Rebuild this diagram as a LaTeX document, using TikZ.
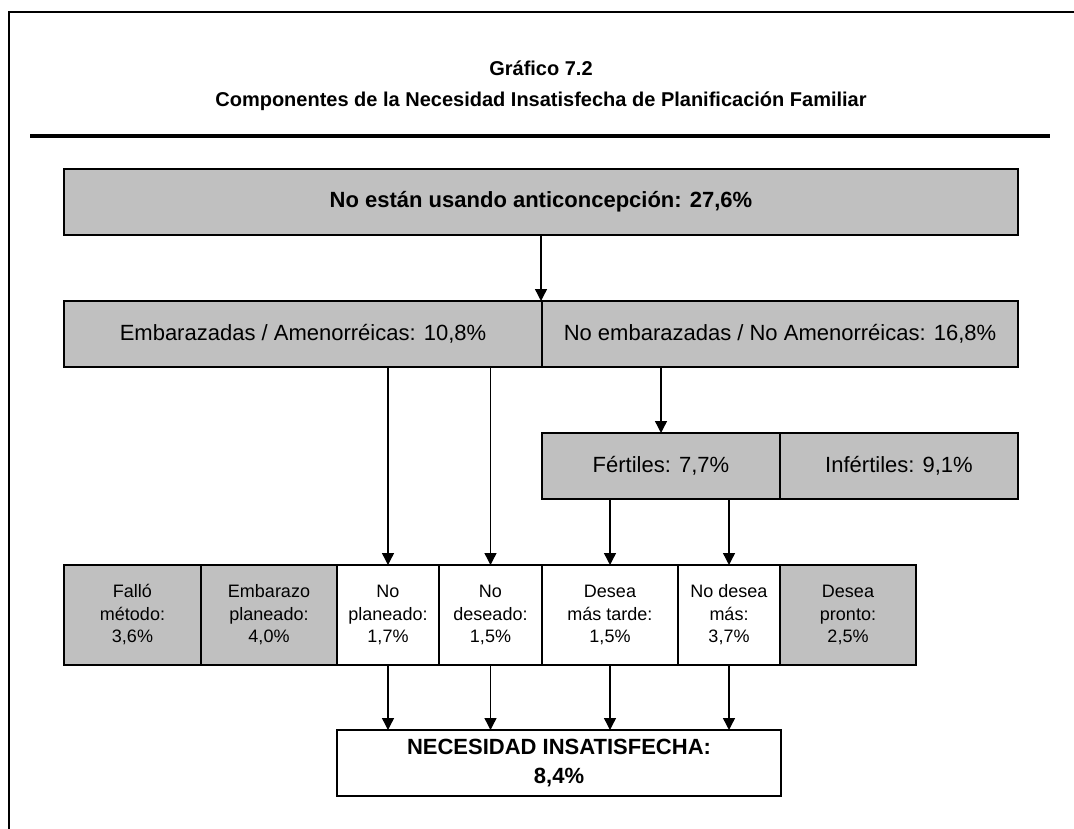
\documentclass[tikz,border=0pt]{standalone}
\usepackage{fontspec}
\setmainfont{Liberation Sans}
\usetikzlibrary{positioning, arrows.meta}
\definecolor{boxgray}{HTML}{C0C0C0}
\tikzset{
  box/.style={draw, line width=2.7pt, fill=boxgray, minimum height=66pt,
    inner sep=0pt, outer sep=0pt, font=\fontsize{22}{26}\selectfont},
  cell/.style={draw, line width=2.7pt, fill=white, minimum height=100pt,
    inner sep=0pt, outer sep=0pt, align=center, font=\fontsize{18}{22.5}\selectfont},
  graycell/.style={cell, fill=boxgray},
  titletext/.style={font=\bfseries\fontsize{20}{24}\selectfont}
}
\begin{document}
\begin{tikzpicture}
	[x=1pt, y=-1pt, >={Triangle[width=12pt,length=12pt]}, line width=1.4pt]
   \useasboundingbox (0,0) rectangle (1074,829);
   \draw[line width=2pt] (1074,12) -- (9,12) -- (9,829);
   \node[titletext] (title) at (541,68) {Gráfico 7.2};
   \node[titletext] (subtitle) at (541,101) {Componentes de la Necesidad Insatisfecha de Planificación Familiar};
   \draw[line width=3.5pt] (30,136) -- (1050,136);
   \node[box, minimum width=954pt, font=\bfseries\fontsize{22}{26}\selectfont] (n_top) at (541,202) {No están usando anticoncepción: 27,6\%};
   \node[box, minimum width=478pt, anchor=west] (n_emb) at (64,334) {Embarazadas / Amenorréicas: 10,8\%};
   \node[box, minimum width=476pt] (n_noemb) [right=0pt of n_emb] {No embarazadas / No Amenorréicas: 16,8\%};
   \node[box, minimum width=238pt] (n_fer) at (661,466) {Fértiles: 7,7\%};
   \node[box, minimum width=238pt] (n_inf) [right=0pt of n_fer] {Infértiles: 9,1\%};
   \node[graycell, minimum width=137pt, anchor=west] (c_1) at (64,615) {Falló\\método:\\3,6\%};
   \node[graycell, minimum width=136pt] (c_2) [right=0pt of c_1] {Embarazo\\planeado:\\4,0\%};
   \node[cell, minimum width=102pt] (c_3) [right=0pt of c_2] {No\\planeado:\\1,7\%};
   \node[cell, minimum width=103pt] (c_4) [right=0pt of c_3] {No\\deseado:\\1,5\%};
   \node[cell, minimum width=136pt] (c_5) [right=0pt of c_4] {Desea\\más tarde:\\1,5\%};
   \node[cell, minimum width=102pt] (c_6) [right=0pt of c_5] {No desea\\más:\\3,7\%};
   \node[graycell, minimum width=136pt] (c_7) [right=0pt of c_6] {Desea\\pronto:\\2,5\%};
   \node[cell, minimum width=444pt, minimum height=66pt, font=\bfseries\fontsize{22}{29}\selectfont] (n_nec) at (559,763) {NECESIDAD INSATISFECHA:\\8,4\%};
    \draw[->] (n_top.south) -- (n_top.south |- n_emb.north);
    \draw[->] (n_emb.south -| c_3.north) -- (c_3.north);
    \draw[->] (n_emb.south -| c_4.north) -- (c_4.north);
    \draw[->] (n_noemb.south -| n_fer.north) -- (n_fer.north);
    \draw[->] (n_fer.south -| c_5.north) -- (c_5.north);
    \draw[->] (n_fer.south -| c_6.north) -- (c_6.north);
    \foreach \c in {c_3, c_4, c_5, c_6}
      \draw[->] (\c.south) -- (\c.south |- n_nec.north);
\end{tikzpicture}
\end{document}
